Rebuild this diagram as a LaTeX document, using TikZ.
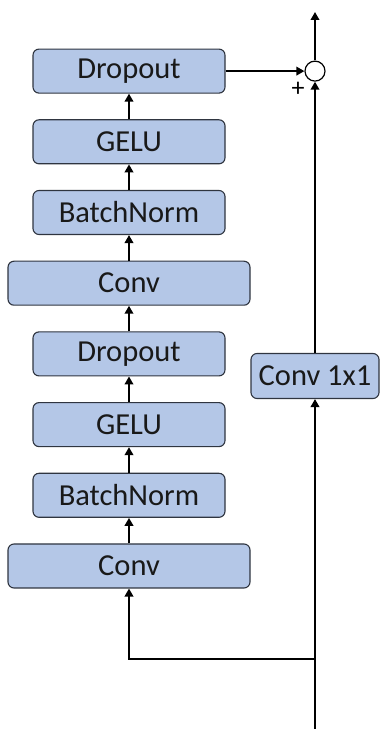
\documentclass[tikz,border=0pt]{standalone}
\usepackage{fontspec}
\setmainfont{Carlito}
\usetikzlibrary{arrows.meta, positioning}

\definecolor{boxblue}{HTML}{B4C7E7}
\definecolor{boxline}{HTML}{2F3540}

\begin{document}
\begin{tikzpicture}[
    x=1pt, y=1pt,
    node distance=25.6pt,
    layer/.style={rectangle, rounded corners=6pt, draw=boxline, line width=1.1pt, fill=boxblue, minimum width=192pt, minimum height=44pt, inner sep=0pt, font=\fontsize{30.5}{36}\selectfont, text=black!90},
    widelayer/.style={layer, minimum width=242pt},
    sumnode/.style={circle, draw=black, line width=1.2pt, fill=white, minimum size=20pt, inner sep=0pt},
    arrow/.style={-{Triangle[length=8pt, width=8.5pt]}, line width=2.6pt, color=black}
]
    \useasboundingbox (0,0) rectangle (380,729);

    % Main branch
    \node (conv1) [widelayer] at (129,163) {Conv};
    \node (bn1) [layer, above=of conv1] {BatchNorm};
    \node (gelu1) [layer, above=of bn1] {GELU};
    \node (drop1) [layer, above=of gelu1] {Dropout};
    \node (conv2) [widelayer, above=of drop1] {Conv};
    \node (bn2) [layer, above=of conv2] {BatchNorm};
    \node (gelu2) [layer, above=of bn2] {GELU};
    \node (drop2) [layer, above=of gelu2] {Dropout};

    \draw [arrow] (conv1) -- (bn1);
    \draw [arrow] (bn1) -- (gelu1);
    \draw [arrow] (gelu1) -- (drop1);
    \draw [arrow] (drop1) -- (conv2);
    \draw [arrow] (conv2) -- (bn2);
    \draw [arrow] (bn2) -- (gelu2);
    \draw [arrow] (gelu2) -- (drop2);

    % Skip branch
    \coordinate (input) at (315,0);
    \coordinate (split) at (315,70);
    \coordinate (output) at (315,717);

    \node (skip) [layer, minimum width=128pt, minimum height=45pt] at (315,353) {Conv 1x1};
    \node (sum) [sumnode] at (drop2 -| input) {};
    \node (plus) [font=\fontsize{26}{30}\selectfont, inner sep=0pt] at ([shift={(-17,-18)}]sum.center) {+};

    \draw [arrow] (input) -- (skip);
    \draw [arrow] (split) -| (conv1);
    \draw [arrow] (skip) -- (sum);
    \draw [arrow] (drop2) -- (sum);
    \draw [arrow] (sum) -- (output);

\end{tikzpicture}
\end{document}
